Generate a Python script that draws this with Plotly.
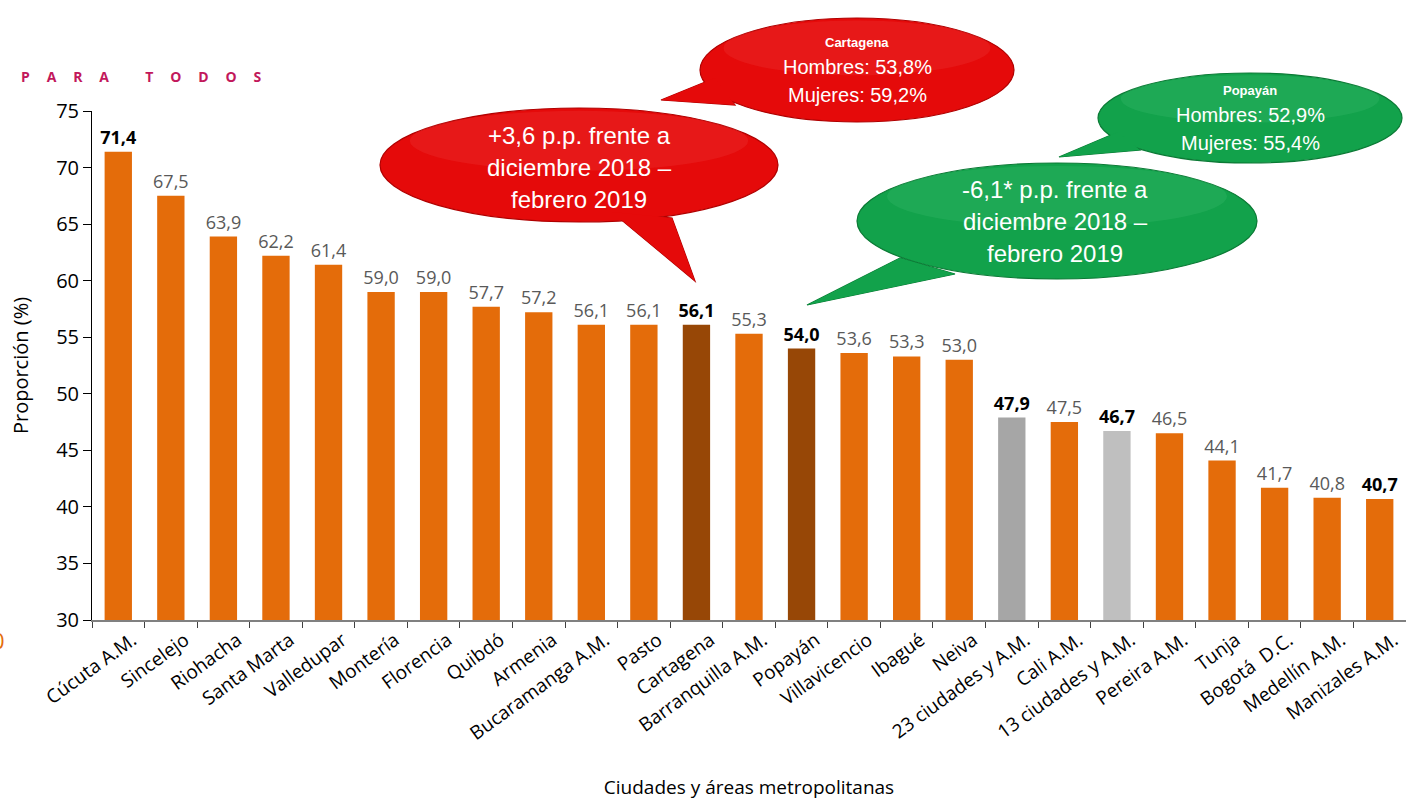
import plotly.graph_objects as go

categories = ["Cúcuta A.M.", "Sincelejo", "Riohacha", "Santa Marta", "Valledupar", "Montería",
              "Florencia", "Quibdó", "Armenia", "Bucaramanga A.M.", "Pasto", "Cartagena",
              "Barranquilla A.M.", "Popayán", "Villavicencio", "Ibagué", "Neiva",
              "23 ciudades y A.M.", "Cali A.M.", "13 ciudades y A.M.", "Pereira A.M.", "Tunja",
              "Bogotá  D.C.", "Medellín A.M.", "Manizales A.M."]
values = [71.4, 67.5, 63.9, 62.2, 61.4, 59.0, 59.0, 57.7, 57.2, 56.1, 56.1, 56.1, 55.3, 54.0,
          53.6, 53.3, 53.0, 47.9, 47.5, 46.7, 46.5, 44.1, 41.7, 40.8, 40.7]
y_ticks = [30, 35, 40, 45, 50, 55, 60, 65, 70, 75]

highlight_dark = ["Cartagena", "Popayán"]
totals = {"23 ciudades y A.M.": "#A6A6A6", "13 ciudades y A.M.": "#BFBFBF"}
bold_labels = ["Cúcuta A.M.", "Cartagena", "Popayán", "23 ciudades y A.M.",
               "13 ciudades y A.M.", "Manizales A.M."]

colors = []
for c in categories:
    if c in highlight_dark:
        colors.append("#974706")
    elif c in totals:
        colors.append(totals[c])
    else:
        colors.append("#E46C0A")

texts, tcolors = [], []
for c, v in zip(categories, values):
    s = f"{v:.1f}".replace(".", ",")
    if c in bold_labels:
        texts.append(f"<b>{s}</b>")
        tcolors.append("#000000")
    else:
        texts.append(s)
        tcolors.append("#595959")

W, H = 1406, 802
L, R, T, B = 92, 0, 111, 182


def px(x):
    return (x - L) / (W - L - R)


def py(y):
    return (H - B - y) / (H - T - B)


fig = go.Figure()
fig.add_trace(go.Bar(
    x=categories, y=values, marker=dict(color=colors, line=dict(width=0)),
    text=texts, textposition="outside", cliponaxis=False, constraintext="none",
    textfont=dict(family="Open Sans", size=18, color=tcolors),
    width=0.52,
))

shapes = []
annotations = []


def bubble(cx, cy, rx, ry, tail, fill, edge, light):
    path = "M " + " L ".join(f"{px(x)},{py(y)}" for x, y in tail) + " Z"
    shapes.append(dict(type="path", xref="paper", yref="paper", path=path,
                       fillcolor=fill, line=dict(color=edge, width=1.2), layer="above"))
    shapes.append(dict(type="circle", xref="paper", yref="paper",
                       x0=px(cx - rx), x1=px(cx + rx), y0=py(cy + ry), y1=py(cy - ry),
                       fillcolor=fill, line=dict(color=edge, width=1.2), layer="above"))
    shapes.append(dict(type="path", xref="paper", yref="paper", path=path,
                       fillcolor=fill, line=dict(width=0), layer="above"))
    shapes.append(dict(type="circle", xref="paper", yref="paper",
                       x0=px(cx - rx * 0.85), x1=px(cx + rx * 0.85),
                       y0=py(cy + ry * 0.1), y1=py(cy - ry * 0.95),
                       fillcolor=light, opacity=0.18, line=dict(width=0), layer="above"))


RED, RED_E = "#E50A0A", "#B00000"
GRN, GRN_E = "#12A24B", "#0B7A35"

bubble(579, 165, 199, 57, [(612, 212), (695, 281), (672, 218)], RED, RED_E, "#F55A5A")
bubble(857, 70, 157, 52, [(715, 78), (661, 100), (735, 105)], RED, RED_E, "#F55A5A")
bubble(1250, 118, 152, 45, [(1118, 132), (1059, 157), (1140, 150)], GRN, GRN_E, "#5ACD85")
bubble(1057, 221, 200, 58, [(900, 258), (807, 305), (955, 274)], GRN, GRN_E, "#5ACD85")


def txt(x, y, s, size, bold=False, color="white", family="Arial", xanchor="center"):
    annotations.append(dict(xref="paper", yref="paper", x=px(x), y=py(y),
                            text=(f"<b>{s}</b>" if bold else s), showarrow=False,
                            xanchor=xanchor, yanchor="middle",
                            font=dict(family=family, size=size, color=color)))


txt(579, 135, "+3,6 p.p. frente a", 24)
txt(579, 167, "diciembre 2018 –", 24)
txt(579, 199, "febrero 2019", 24)

txt(857, 42, "Cartagena", 13, bold=True)
txt(857, 67, "Hombres: 53,8%", 20)
txt(857, 95, "Mujeres: 59,2%", 20)

txt(1250, 90, "Popayán", 13, bold=True)
txt(1250, 115, "Hombres: 52,9%", 20)
txt(1250, 143, "Mujeres: 55,4%", 20)

txt(1055, 189, "-6,1* p.p. frente a", 24)
txt(1055, 221, "diciembre 2018 –", 24)
txt(1055, 253, "febrero 2019", 24)

sp = "\u00a0" * 4 + "\u2009"
txt(19, 77, sp.join(list("PARA")) + "\u00a0" * 10 + sp.join(list("TODOS")), 14, bold=True,
    color="#C2185B", family="Open Sans", xanchor="left")
txt(7, 640, "0", 22, color="#E46C0A", family="Open Sans", xanchor="right")

fig.update_layout(
    width=W, height=H, margin=dict(l=L, r=R, t=T, b=B, pad=0),
    paper_bgcolor="white", plot_bgcolor="white", showlegend=False,
    shapes=shapes, annotations=annotations,
    font=dict(family="Open Sans", color="#000000"),
    xaxis=dict(type="category", tickangle=-36, tickfont=dict(size=19, color="#000000"),
               ticks="outside", tickson="boundaries", ticklen=6, tickcolor="#404040",
               ticklabelshift=14,
               showline=True, linecolor="#808080", linewidth=1.5, showgrid=False,
               title=dict(text="Ciudades y áreas metropolitanas", font=dict(size=19),
                          standoff=36)),
    yaxis=dict(range=[30, 75], tickvals=y_ticks, tickfont=dict(size=20, color="#000000"),
               ticks="outside", ticklen=8, tickcolor="#000000", showline=True,
               linecolor="#000000", linewidth=1, showgrid=False, zeroline=False,
               title=dict(text="Proporción (%)", font=dict(size=20), standoff=22)),
)

fig.write_html("out.html", config={"displayModeBar": False},
               post_script="document.body.style.margin='0px';")
